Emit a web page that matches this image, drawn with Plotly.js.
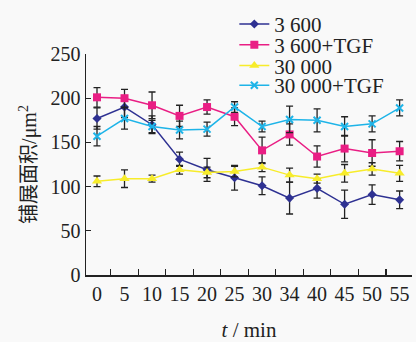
<!DOCTYPE html>
<html>
<head>
<meta charset="utf-8">
<script src="https://cdn.plot.ly/plotly-3.0.1.min.js"></script>
<style>html,body{margin:0;padding:0;background:#f9f9f9;}#chart{width:416px;height:342px;}</style>
</head>
<body>
<div id="chart"></div>
<script>
const categories = ["0","5","10","15","20","25","30","34","40","45","50","55"];
const seriesNames = ["3 600","3 600+TGF","30 000","30 000+TGF"];
const v3600 = [177,190,170,131,119,110,101,87,98,80,91,85];
const e3600 = [12,12,10,8,13,14,10,18,11,16,11,10];
const v3600TGF = [201,200,192,180,190,179,141,159,134,143,138,140];
const e3600TGF = [11,10,15,12,8,10,15,12,12,15,15,11];
const v30000 = [106,109,109,119,116,117,122,113,109,115,120,115];
const e30000 = [6,10,4,5,6,6,5,8,5,10,7,9];
const v30000TGF = [157,177,168,164,165,190,168,176,175,168,171,189];
const e30000TGF = [11,12,7,10,8,6,6,15,13,11,9,9];
const colors = ["#2e3192","#e91e84","#f7ec2a","#1eb4e8"];
const symbols = ["diamond","square","triangle-up","x-thin-open"];
const sizes = [7,8,9,7];
const vals = [v3600,v3600TGF,v30000,v30000TGF];
const errs = [e3600,e3600TGF,e30000,e30000TGF];
const legendIds = ["legend","legend2","legend3","legend4"];
const legendY = [1.134,1.040,0.946,0.857];

const traces = vals.map((v,i)=>({
  type:"scatter", mode:"lines+markers",
  name:seriesNames[i], legend:legendIds[i],
  x:categories, y:v,
  line:{color:colors[i], width:1.5},
  marker:{color:colors[i], symbol:symbols[i], size:sizes[i], line:{color:colors[i], width:i===3?2:0}},
  error_y:{type:"data", array:errs[i], visible:true, color:"#222222", thickness:1.3, width:3.5}
}));

const font = "Liberation Serif, Times New Roman, serif";
const layout = {
  width:416, height:342,
  paper_bgcolor:"#f9f9f9", plot_bgcolor:"#f9f9f9",
  margin:{l:86, r:4, t:51, b:67},
  font:{family:font, size:20, color:"#222"},
  showlegend:true,
  xaxis:{type:"category", range:[-0.4,11.45], showline:true, linecolor:"#222", linewidth:1.5,
    ticks:"inside", tickson:"boundaries", ticklen:6, tickwidth:1.3, tickcolor:"#222",
    tickangle:0, showgrid:false, zeroline:false, tickfont:{family:font, size:20},
    title:{text:"<i>t</i> / min", font:{family:font, size:21}, standoff:22}},
  yaxis:{range:[0,250], dtick:50, showline:true, linecolor:"#222", linewidth:1.5,
    ticks:"inside", ticklen:5, tickwidth:1.3, tickcolor:"#222",
    showgrid:false, zeroline:false, tickfont:{family:font, size:20},
    title:{text:"<span style='font-family:Noto Sans CJK SC'>铺展面积</span>/μm<sup>2</sup>", font:{family:font, size:20}, standoff:8}}
};
legendIds.forEach((id,i)=>{
  layout[id] = {x:0.455, y:legendY[i], xanchor:"left", yanchor:"middle", bgcolor:"rgba(0,0,0,0)",
    font:{family:font, size:21, color:"#222"}, itemwidth:30, borderwidth:0};
});
Plotly.newPlot("chart", traces, layout, {staticPlot:true});
</script>
</body>
</html>
